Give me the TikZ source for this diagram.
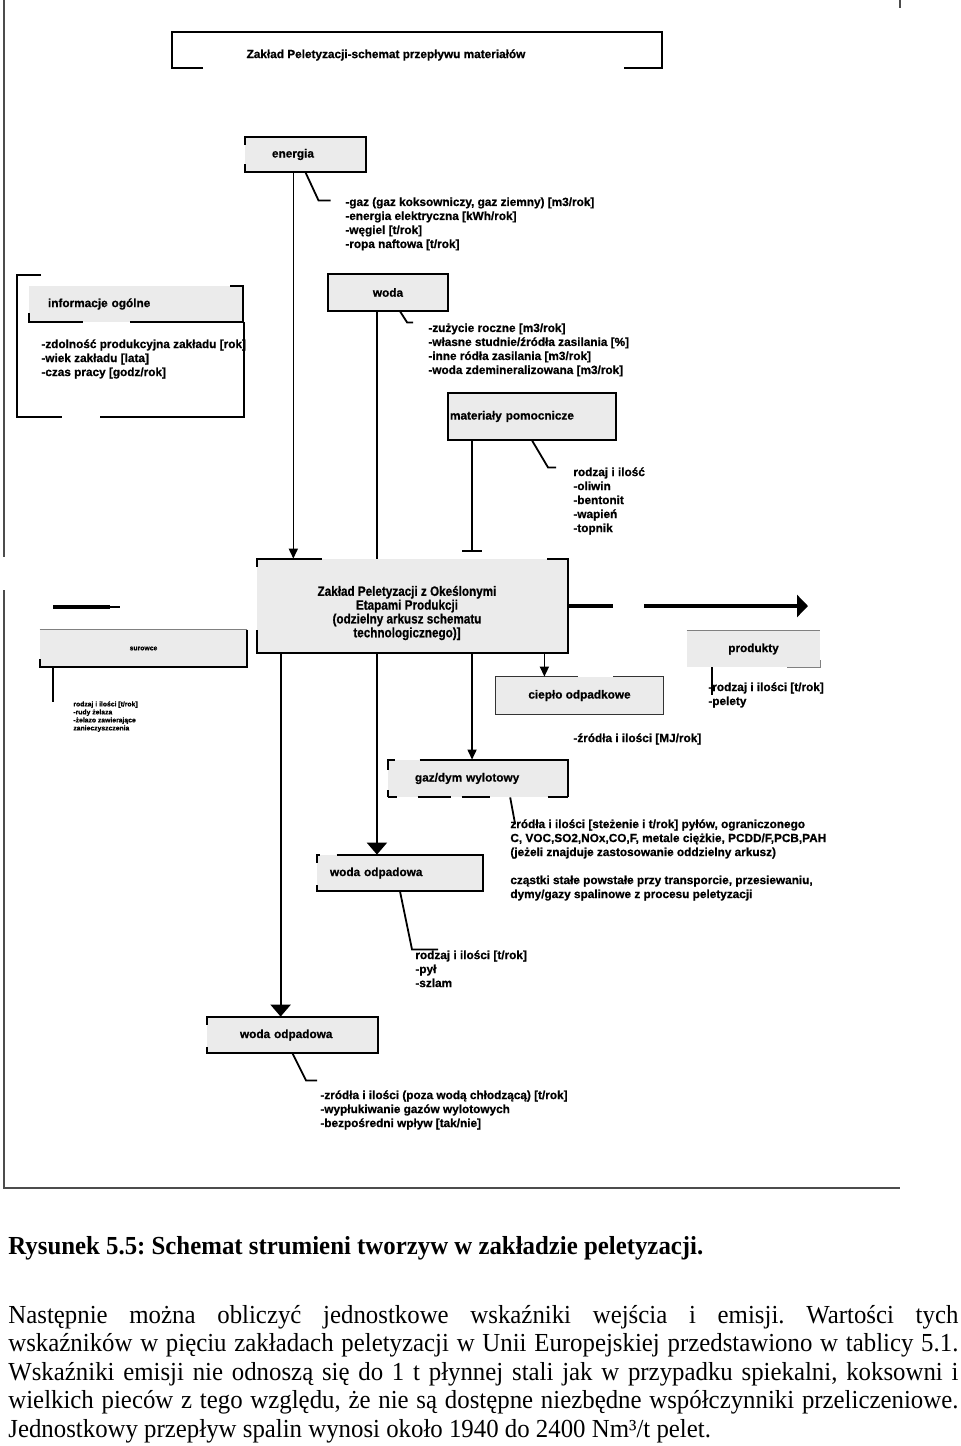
\documentclass[tikz,border=0pt]{standalone}
\usepackage{fontspec}
\setmainfont{Liberation Serif}[FakeStretch=0.955]
\newfontfamily\diafont{Liberation Sans}[BoldFeatures={FakeBold=0.8}]
\newfontfamily\narrowfont{Liberation Sans}[FakeStretch=0.86,BoldFeatures={FakeBold=0.8}]
\usepackage{tikz}
\usetikzlibrary{calc,positioning,arrows.meta}
\definecolor{boxgray}{gray}{0.92}
\newcommand{\lab}{\diafont\bfseries\fontsize{5.9pt}{7pt}\selectfont}
\newcommand{\mainlab}{\narrowfont\bfseries\fontsize{6.8pt}{6.9pt}\selectfont}
\newcommand{\tinylab}{\diafont\bfseries\fontsize{3.4pt}{4pt}\selectfont}
\newcommand{\bodytext}{\fontsize{13pt}{14.25pt}\selectfont}
\frenchspacing

\begin{document}
\begin{tikzpicture}
	[x=0.5pt,y=-0.5pt,
	every node/.style={inner sep=0pt,font=\lab},
	box/.style={rectangle,fill=boxgray,draw=none},
	edge/.style={line width=1pt},
	conn/.style={line width=0.9pt},
	lst/.style={anchor=north west,align=left},
	arr/.style={line width=0.8pt,-{Triangle[width=4.5pt,length=5pt]}},
	bigarr/.style={line width=1.1pt,-{Triangle[width=10pt,length=6pt]}}]
	\useasboundingbox (0,0) rectangle (960,1446);

	\draw[black!70,line width=1pt] (4,0) -- (4,557) (4,590) -- (4,1188) -- (900,1188);
	\draw[black!70,line width=1pt] (900,0) -- (900,8);

	\draw[edge] (203,68) -- (172,68) -- (172,32) -- (662,32) -- (662,68) -- (624,68);
	\node (title) at (386,55) {Zakład Peletyzacji-schemat przepływu materiałów};

	\node[box,minimum width=60.5pt,minimum height=17.5pt,text width=33.5pt,inner xsep=13.5pt,align=left] (energia) at (305.5,154.5) {energia};
	\node[box,minimum width=60pt,minimum height=18.5pt] (woda) at (388,292.5) {woda};
	\node[box,minimum height=23.5pt,text width=82pt,inner xsep=1pt,align=left] (mat) at (532,416.5) {materiały pomocnicze};
	\node[box,minimum height=18pt,text width=88pt,inner xsep=9.5pt,align=left] (info) at (136,304) {informacje ogólne};
	\node[box,minimum width=155.5pt,minimum height=47pt] (main) at (412.5,606) {};
	\node[font=\mainlab,align=center] (maintext) at (407,613)
		{Zakład Peletyzacji z Okeślonymi\\Etapami Produkcji\\(odzielny arkusz schematu\\technologicznego)]};
	\node[box,minimum width=103.5pt,minimum height=18.5pt,font=\tinylab] (raw) at (143.5,648.5) {surowce};
	\node[box,minimum width=66.5pt,minimum height=18pt] (prod) at (753.5,649) {produkty};
	\node[box,minimum width=83.5pt,minimum height=18.5pt] (heat) at (579.5,695.5) {ciepło odpadkowe};
	\node[box,minimum height=18.5pt,text width=63pt,inner xsep=13.5pt,align=left] (gaz) at (478,778.5) {gaz/dym wylotowy};
	\node[box,minimum height=18pt,text width=70pt,inner xsep=6.5pt,align=left] (ww1) at (400,873) {woda odpadowa};
	\node[box,minimum height=18pt,text width=52.5pt,inner xsep=16.5pt,align=left] (ww2) at (292.5,1035) {woda odpadowa};

	\draw[edge] (energia.north west) ++(0,8) -- (energia.north west) -- (energia.north east) -- (energia.south east) -- (energia.south west) -- ++(0,-8);
	\draw[edge] (woda.north west) rectangle (woda.south east);
	\draw[edge] (mat.north west) rectangle (mat.south east);
	\draw[edge] (info.north east) ++(-13,0) -- (info.north east) -- (info.south east) -- ++(-113,0);
	\draw[edge] (info.south west) ++(0,-9) -- (info.south west) -- ++(54,0);
	\draw[edge] (41,275) -- (17,275) -- (17,417) -- (62,417) (100,417) -- (244,417) -- (244,322);
	\draw[edge] (main.north west) ++(65,0) -- (main.north west) -- ++(0,8);
	\draw[edge] (main.north east) ++(-21,0) -- (main.north east) -- (main.south east) -- (main.south west) -- ++(0,-23);
	\draw[black!50,line width=0.6pt] (raw.north west) -- (raw.north east);
	\draw[edge] (raw.north east) -- (raw.south east) -- (raw.south west) -- ++(0,-8);
	\draw[black!50,line width=0.6pt] (prod.north west) -- (prod.north east);
	\draw[black!50,line width=0.6pt] (prod.south east) ++(-33,0) -- (prod.south east) -- ++(0,-7);
	\draw[black!80,line width=0.8pt] (heat.north west) ++(82,0) -- (heat.north west) -- (heat.south west) -- (heat.south east) -- (heat.north east) -- ++(-50,0);
	\draw[edge] (gaz.north west) ++(0,10) -- (gaz.north west) -- ++(7,0) ++(25,0) -- (gaz.north east) -- (gaz.south east);
	\draw[edge,dash pattern=on 4.5pt off 10.5pt on 16.5pt off 5.5pt on 14pt off 29pt on 10.5pt] (gaz.south west) -- (gaz.south east);
	\draw[edge] (gaz.south west) -- ++(0,-7);
	\draw[edge] (ww1.north west) ++(0,8) -- (ww1.north west) -- ++(3,0) ++(17,0) -- (ww1.north east) -- (ww1.south east) -- (ww1.south west) -- ++(0,-6);
	\draw[edge] (ww2.north west) ++(0,8) -- (ww2.north west) -- (ww2.north east) -- (ww2.south east) -- (ww2.south west) -- ++(0,-6);

	\draw[arr] ($(energia.south west)!.4!(energia.south east)$) coordinate (e1) -- (e1 |- main.north);
	\draw[conn] ($(woda.south west)!.41!(woda.south east)$) coordinate (w1) -- (w1 |- main.north);
	\draw[conn,-{Bar[width=10pt]},shorten >=3.5pt] ($(mat.south west)!.143!(mat.south east)$) coordinate (m1) -- (m1 |- main.north);
	\foreach \pos/\goal/\tip in {.077/ww2/bigarr,.386/ww1/bigarr,.691/gaz/arr,.923/heat/arr}{
		\draw[\tip] ($(main.south west)!\pos!(main.south east)$) coordinate (s) -- (s |- \goal.north);
	}
	\coordinate (outflow) at (808,606);
	\draw[line width=2pt,dash pattern=on 22.5pt off 15.5pt on 100pt,-{Triangle[width=11pt,length=5.5pt]}] (main.east) -- (outflow);
	\coordinate (inflow) at (53,607);
	\draw[line width=2pt] (inflow) -- ++(57,0);
	\draw[line width=0.6pt] (inflow) ++(57,0) -- ++(10,0);

	\draw[conn] (energia.south) -- ++(13,28) -- ++(12,0);
	\draw[conn] ($(woda.south west)!.6!(woda.south east)$) -- ++(7,11) -- ++(6,0);
	\draw[conn] (mat.south) -- ++(16,27) -- ++(8,0);
	\draw[conn] ($(gaz.south west)!.678!(gaz.south east)$) -- ++(5,27);
	\draw[conn] (ww1.south) -- ++(12,58) -- ++(26,0);
	\draw[conn] (ww2.south) -- ++(13.5,27) -- ++(11,0);
	\draw[conn] ($(prod.south west)!.188!(prod.south east)$) -- ++(0,28);
	\draw[conn] ($(raw.south west)!.063!(raw.south east)$) -- ++(0,35);

	\node[lst] (gaslist) at (345,197) {-gaz (gaz koksowniczy, gaz ziemny) [m3/rok]\\-energia elektryczna [kWh/rok]\\-węgiel [t/rok]\\-ropa naftowa [t/rok]};
	\node[lst] (infolist) at (41,339) {-zdolność produkcyjna zakładu [rok]\\-wiek zakładu [lata]\\-czas pracy [godz/rok]};
	\node[lst] (wodalist) at (428,323) {-zużycie roczne [m3/rok]\\-własne studnie/źródła zasilania [\%]\\-inne ródła zasilania [m3/rok]\\-woda zdemineralizowana [m3/rok]};
	\node[lst] (matlist) at (573,467) {rodzaj i ilość\\-oliwin\\-bentonit\\-wapień\\-topnik};
	\node[lst,font=\tinylab] (rawlist) at (73,701) {rodzaj i ilości [t/rok]\\-rudy żelaza\\-żelazo zawierające\\zanieczyszczenia};
	\node[lst] (prodlist) at (708,682) {-rodzaj i ilości [t/rok]\\-pelety};
	\node[lst] (heatlist) at (573,733) {-źródła i ilości [MJ/rok]};
	\node[lst] (gazlist) at (510,819) {zródła i ilości [steżenie i t/rok] pyłów, ograniczonego\\C, VOC,SO2,NOx,CO,F, metale ciężkie, PCDD/F,PCB,PAH\\(jeżeli znajduje zastosowanie oddzielny arkusz)\\[7pt]cząstki stałe powstałe przy transporcie, przesiewaniu,\\dymy/gazy spalinowe z procesu peletyzacji};
	\node[lst] (ww1list) at (415,950) {rodzaj i ilości [t/rok]\\-pył\\-szlam};
	\node[lst] (ww2list) at (320,1090) {-zródła i ilości (poza wodą chłodzącą) [t/rok]\\-wypłukiwanie gazów wylotowych\\-bezpośredni wpływ [tak/nie]};

	\node[anchor=west,font=\bodytext\bfseries] (caption) at (8,1248) {Rysunek 5.5: Schemat strumieni tworzyw w zakładzie peletyzacji.};
	\node[anchor=north west,text width=475pt,align=justify,font=\bodytext] (para) at (8,1305)
		{Następnie można obliczyć jednostkowe wskaźniki wejścia i emisji. Wartości tych\linebreak
		wskaźników w pięciu zakładach peletyzacji w Unii Europejskiej przedstawiono w tablicy 5.1.\linebreak
		Wskaźniki emisji nie odnoszą się do 1 t płynnej stali jak w przypadku spiekalni, koksowni i\linebreak
		wielkich pieców z tego względu, że nie są dostępne niezbędne współczynniki przeliczeniowe.\linebreak
		Jednostkowy przepływ spalin wynosi około 1940 do 2400 Nm³/t pelet.};
\end{tikzpicture}
\end{document}
